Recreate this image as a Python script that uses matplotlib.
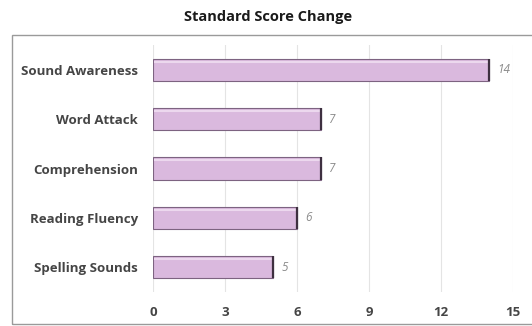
import matplotlib
matplotlib.use("Agg")
import matplotlib.pyplot as plt
from matplotlib.patches import Rectangle

categories = ["Sound Awareness", "Word Attack", "Comprehension", "Reading Fluency", "Spelling Sounds"]
values = [14, 7, 7, 6, 5]
x_ticks = [0, 3, 6, 9, 12, 15]

plt.rcParams["font.family"] = ["Open Sans", "DejaVu Sans"]

fig = plt.figure(figsize=(5.32, 3.26), dpi=100)
fig.patch.set_facecolor("white")

# outer chart border
fig.patches.append(Rectangle((12 / 532, 2 / 326), 0.99, 289 / 326, transform=fig.transFigure,
                             fill=False, edgecolor="#9a9a9a", linewidth=1.0, clip_on=False))

fig.text(268 / 532, 1 - 17 / 326, "Standard Score Change", ha="center", va="center",
         fontsize=10.5, fontweight="bold", color="#1a1a1a")

ax = fig.add_axes([153 / 532, 1 - 292 / 326, 360 / 532, 247 / 326])
y = list(range(len(categories)))
bars = ax.barh(y, values, height=0.45, color="#dab9de", edgecolor="#7d6381", linewidth=0.8, zorder=3)
for b in bars:
    # lighter sheen along the top of each bar
    ax.plot([0.05, b.get_width() - 0.05], [b.get_y() + 0.06] * 2, color="#ecd8ee",
            linewidth=1.5, zorder=4, solid_capstyle="butt")
    # darker cap on the right end of each bar
    ax.plot([b.get_width(), b.get_width()], [b.get_y(), b.get_y() + b.get_height()],
            color="#3e3040", linewidth=1.6, zorder=5, solid_capstyle="butt")
    ax.text(b.get_width() + 0.35, b.get_y() + b.get_height() / 2, f"{int(b.get_width())}",
            va="center", ha="left", fontsize=8.5, style="italic", color="#8a8a8a")

ax.set_xlim(0, 15)
ax.set_ylim(len(categories) - 0.5, -0.5)
ax.set_xticks(x_ticks)
ax.set_xticklabels([str(t) for t in x_ticks])
ax.set_yticks(y)
ax.set_yticklabels(categories)
ax.grid(axis="x", color="#e4e4e4", linewidth=0.8, zorder=0)
for s in ax.spines.values():
    s.set_visible(False)
ax.tick_params(axis="both", length=0, colors="#454545", labelsize=9.5)
ax.tick_params(axis="x", pad=10)
ax.tick_params(axis="y", pad=11)
for lab in ax.get_yticklabels() + ax.get_xticklabels():
    lab.set_fontweight("bold")

fig.savefig("out.png", dpi=100, facecolor="white")
